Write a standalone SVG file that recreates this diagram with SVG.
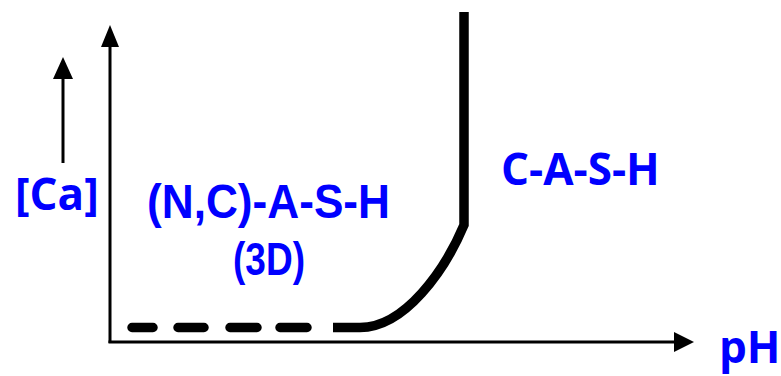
<svg xmlns="http://www.w3.org/2000/svg" width="781" height="376" viewBox="0 0 781 376">
<style>
.lbl{fill:#0000ff;font-weight:bold}
.os{font-family:"Open Sans","Liberation Sans",sans-serif;font-size:44px}
.ar{font-family:"Liberation Sans",Arial,sans-serif}
.ax{stroke:#000;stroke-width:3;fill:none}
.hd{fill:#000}
</style>
<rect width="781" height="376" fill="#fff"/>
<g id="connectors">
  <g id="y-axis">
    <line class="ax" x1="110" y1="343" x2="110" y2="45"/>
    <polygon class="hd" points="110,25 101,47 119,47"/>
  </g>
  <g id="x-axis">
    <line class="ax" x1="108.5" y1="342" x2="677" y2="342"/>
    <polygon class="hd" points="694,342 674,332 674,352"/>
  </g>
  <g id="ca-arrow">
    <line class="ax" x1="63" y1="163" x2="63" y2="76"/>
    <polygon class="hd" points="63,57 53,79 73,79"/>
  </g>
  <g id="curve">
    <path d="M132,327.5 H153 M178,327.5 H204 M230,327.5 H257 M280,327.5 H307" stroke="#000" stroke-width="9.5" stroke-linecap="round" fill="none"/>
    <path d="M333,327.5 H360 C405,327.5 445,270 464,225 V12" stroke="#000" stroke-width="9.5" fill="none"/>
  </g>
</g>
<g id="label-ca"><text class="lbl os" x="15" y="210">[Ca]</text></g>
<g id="label-ncash">
  <text class="lbl ar" x="147" y="218" font-size="48" textLength="243" lengthAdjust="spacingAndGlyphs">(N,C)-A-S-H</text>
  <text class="lbl ar" x="233" y="275" font-size="46" textLength="72" lengthAdjust="spacingAndGlyphs">(3D)</text>
</g>
<g id="label-cash"><text class="lbl os" x="501" y="185">C-A-S-H</text></g>
<g id="label-ph"><text class="lbl os" x="719" y="363" font-size="42">pH</text></g>
</svg>
